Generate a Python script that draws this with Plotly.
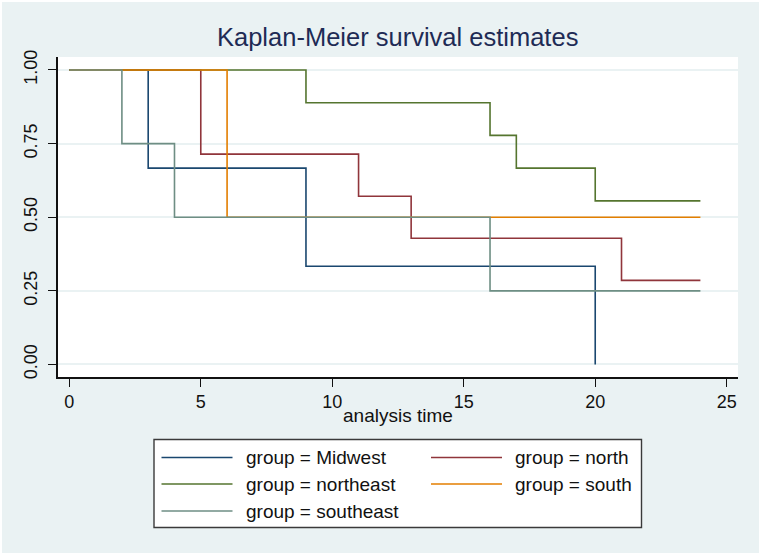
import plotly.graph_objects as go

# Kaplan-Meier step estimates by group (time, survival)
groups = ["Midwest", "north", "northeast", "south", "southeast"]
times = {
    "Midwest":   [0, 3, 9, 20],
    "north":     [0, 5, 11, 13, 21, 24],
    "northeast": [0, 9, 16, 17, 20, 24],
    "south":     [0, 6, 24],
    "southeast": [0, 2, 4, 16, 24],
}
survival = {
    "Midwest":   [1.0, 0.6667, 0.3333, 0.0],
    "north":     [1.0, 0.7143, 0.5714, 0.4286, 0.2857, 0.2857],
    "northeast": [1.0, 0.8889, 0.7778, 0.6667, 0.5556, 0.5556],
    "south":     [1.0, 0.5, 0.5],
    "southeast": [1.0, 0.75, 0.5, 0.25, 0.25],
}
colors = {
    "Midwest": "#1a476f",
    "north": "#90353b",
    "northeast": "#55752f",
    "south": "#e37e00",
    "southeast": "#6e8e84",
}
x_ticks = [0, 5, 10, 15, 20, 25]
y_ticks = [0.0, 0.25, 0.5, 0.75, 1.0]

W, H = 759, 555
L, R, T, B = 58, 738, 57, 377  # plot area in pixels
FONT = "Liberation Sans, Arial, sans-serif"
BG = "#eaf2f3"


def px(p):
    return (p - L) / (R - L)


def py(p):
    return (B - p) / (B - T)


fig = go.Figure()
for g in groups:
    fig.add_trace(go.Scatter(
        x=times[g], y=survival[g], mode="lines", line_shape="hv",
        line=dict(color=colors[g], width=1.6), name=f"group = {g}",
        showlegend=False, hoverinfo="skip",
    ))

shapes = [
    # graph region and white plot region
    dict(type="rect", xref="paper", yref="paper", x0=px(2), x1=px(760),
         y0=py(553), y1=py(2), fillcolor=BG, line_width=0, layer="below"),
    dict(type="rect", xref="paper", yref="paper", x0=0, x1=1, y0=0, y1=1,
         fillcolor="white", line_width=0, layer="below"),
    # legend box
    dict(type="rect", xref="paper", yref="paper", x0=px(154), x1=px(641.5),
         y0=py(527.5), y1=py(439.5), fillcolor="white",
         line=dict(color="#3a3a3a", width=1.4), layer="above"),
]
annotations = [
    dict(text="Kaplan-Meier survival estimates", xref="paper", yref="paper",
         x=px(397.5), y=py(37), xanchor="center", yanchor="middle",
         showarrow=False, font=dict(family=FONT, size=25.5, color="#1e2b55")),
    dict(text="analysis time", xref="paper", yref="paper",
         x=px(398), y=py(415), xanchor="center", yanchor="middle",
         showarrow=False, font=dict(family=FONT, size=19, color="#111111")),
]

# legend entries: two columns
leg_pos = [(161.5, 457.5), (431, 457.5), (161.5, 484), (431, 484), (161.5, 511)]
for g, (lx, ly) in zip(groups, leg_pos):
    shapes.append(dict(type="line", xref="paper", yref="paper",
                       x0=px(lx), x1=px(lx + 71), y0=py(ly), y1=py(ly),
                       line=dict(color=colors[g], width=1.5), layer="above"))
    annotations.append(dict(text=f"group = {g}", xref="paper", yref="paper",
                            x=px(lx + 82), y=py(ly), xanchor="left",
                            yanchor="middle", showarrow=False,
                            font=dict(family=FONT, size=19, color="#111111")))

fig.update_layout(
    width=W, height=H, autosize=False,
    margin=dict(l=L, r=W - R, t=T, b=H - B, pad=0),
    paper_bgcolor="white", plot_bgcolor="rgba(0,0,0,0)",
    shapes=shapes, annotations=annotations, showlegend=False,
    font=dict(family=FONT, color="#111111"),
)
fig.update_xaxes(
    range=[-0.43, 25.43], tickvals=x_ticks, ticktext=[str(v) for v in x_ticks],
    showgrid=False, zeroline=False, showline=True, linecolor="#111111",
    linewidth=1.6, ticks="outside", ticklen=8, tickwidth=1.2,
    tickcolor="#111111", tickfont=dict(family=FONT, size=18, color="#111111"),
    ticklabelstandoff=0,
)
fig.update_yaxes(
    range=[-0.0425, 1.044], tickvals=y_ticks,
    ticktext=[f"{v:.2f}" for v in y_ticks], tickangle=-90,
    showgrid=True, gridcolor=BG, gridwidth=1.5, zeroline=False,
    showline=True, linecolor="#111111", linewidth=1.6, ticks="outside",
    ticklen=8, tickwidth=1.2, tickcolor="#111111",
    tickfont=dict(family=FONT, size=18, color="#111111"),
    ticklabelstandoff=4,
)

fig.write_html("out.html")
